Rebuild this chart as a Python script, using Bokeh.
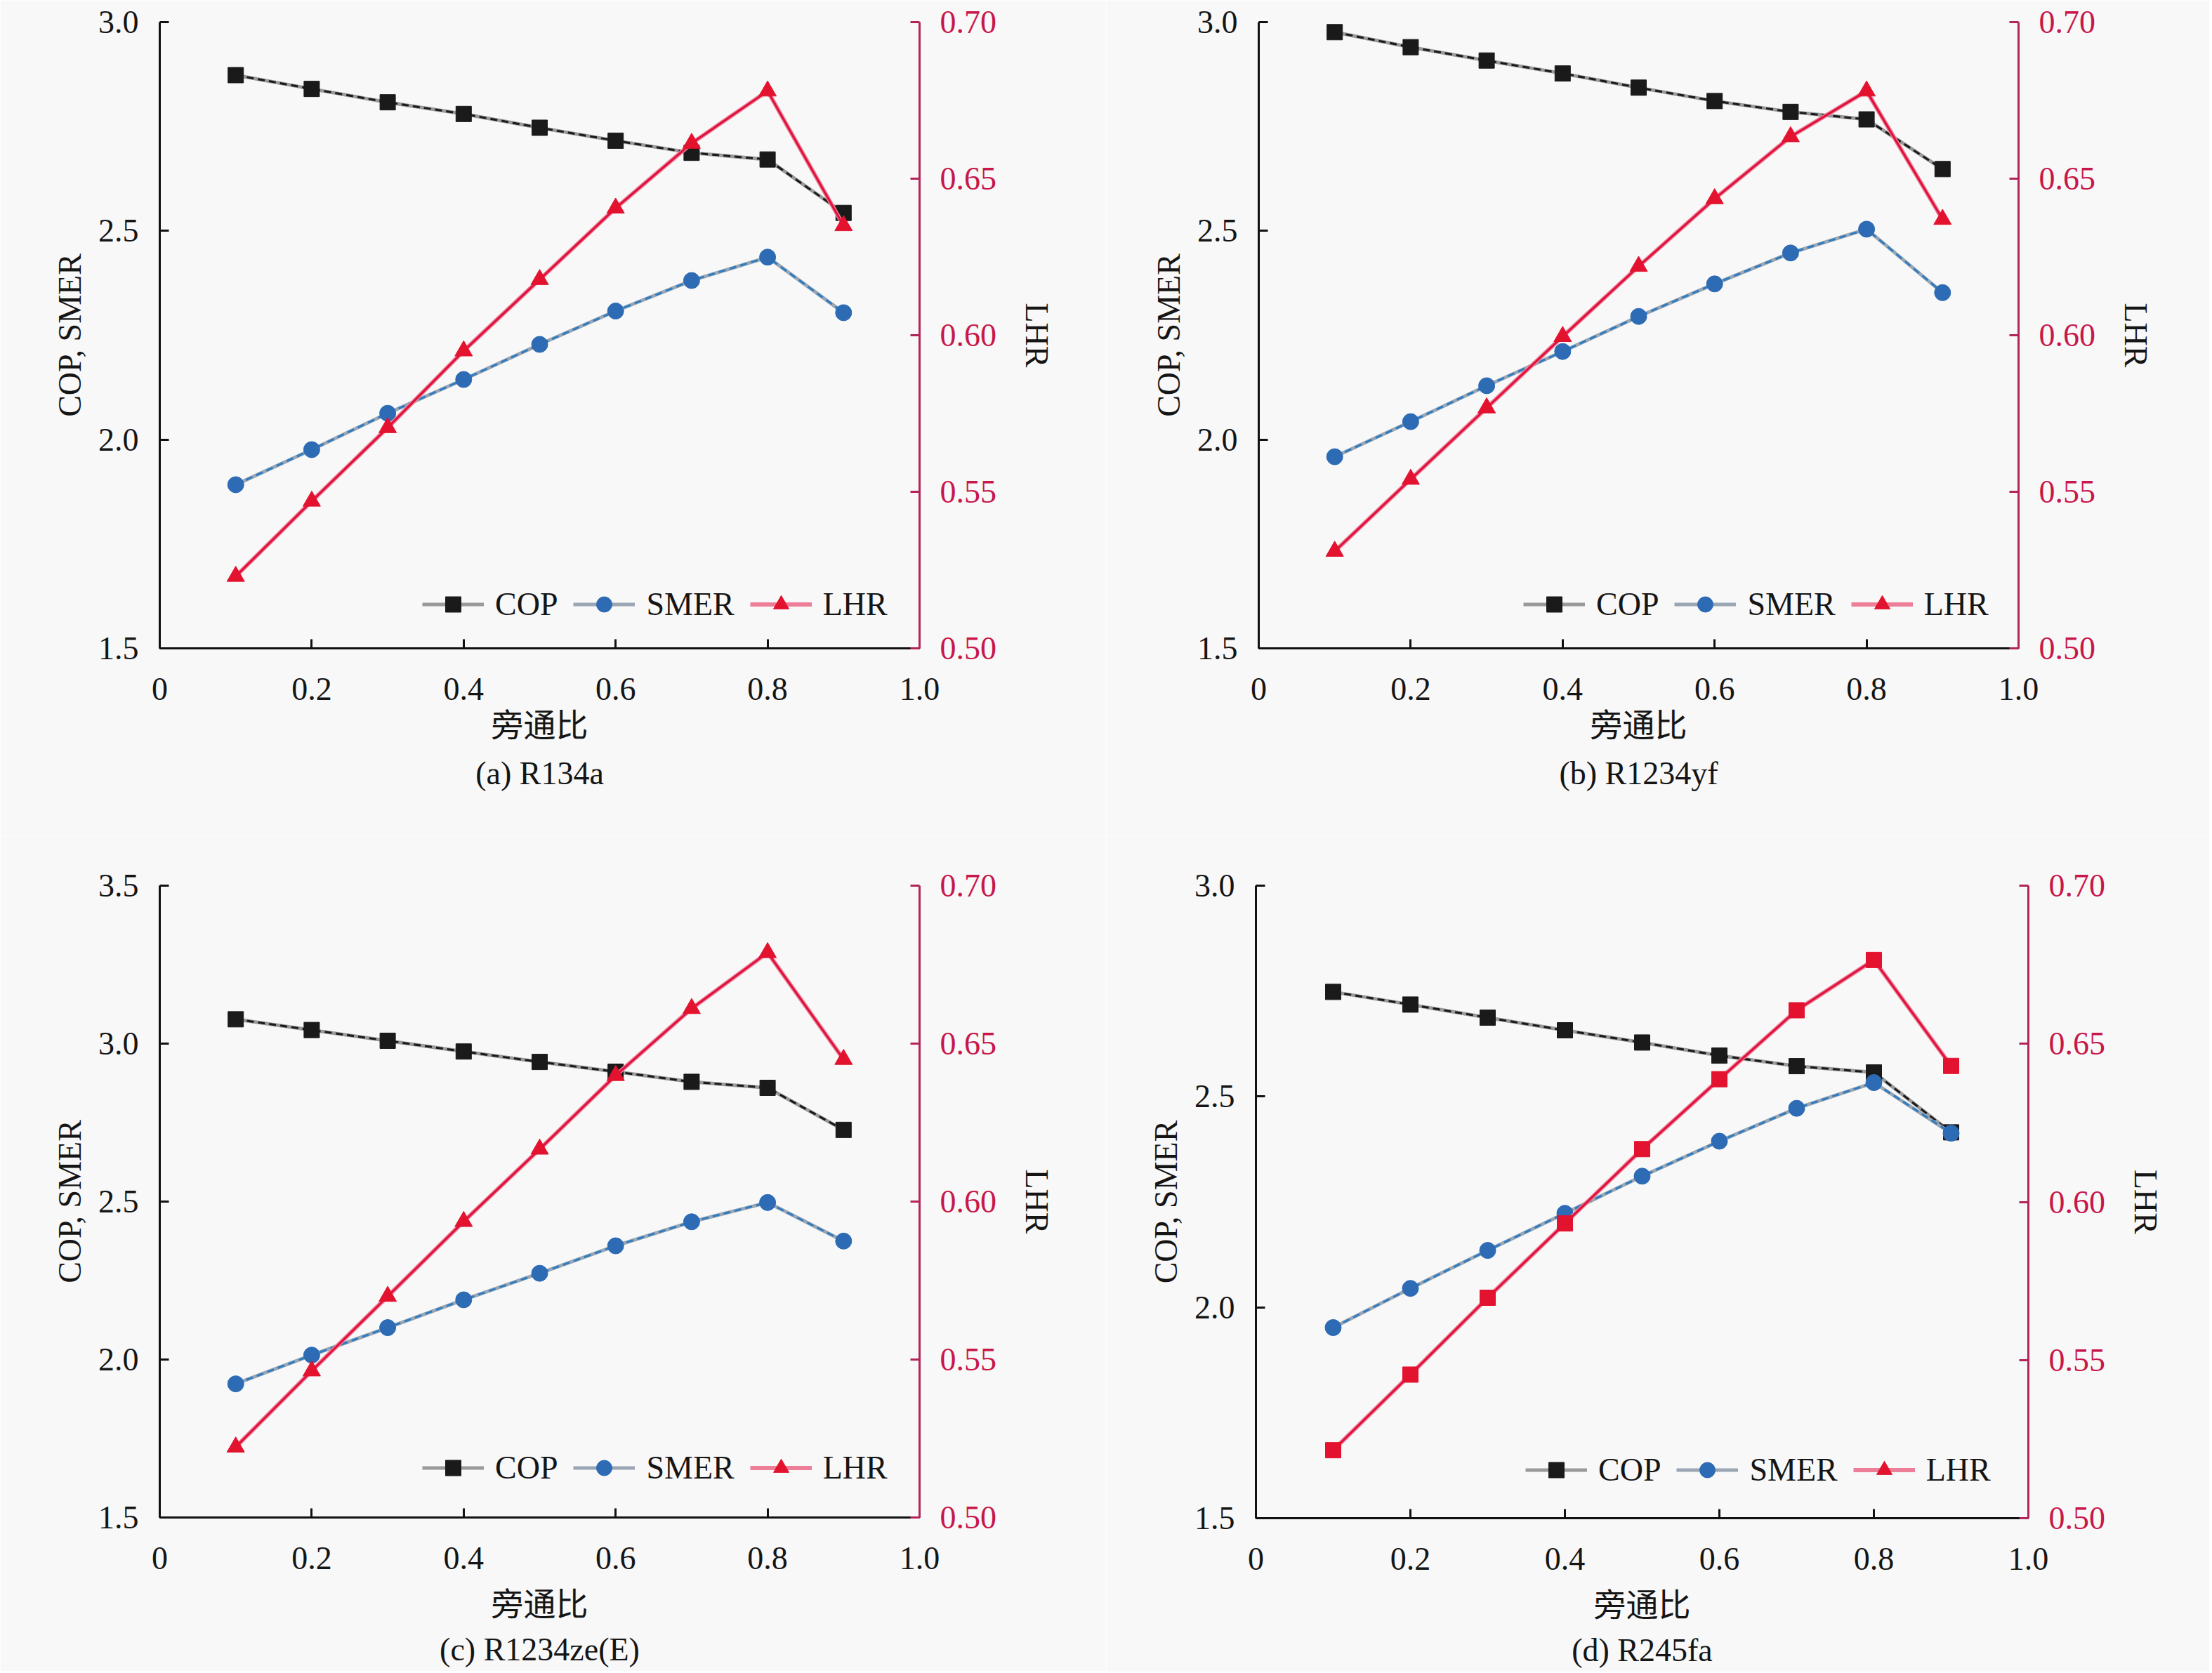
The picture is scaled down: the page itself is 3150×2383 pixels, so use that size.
from bokeh.plotting import figure
from bokeh.models import Range1d, LinearAxis, FixedTicker, Legend, LegendItem, Title
from bokeh.layouts import column, row
from bokeh.core.properties import value
from bokeh.embed import file_html
from bokeh.resources import INLINE

# ---------------- data ----------------
BYPASS = [0.1, 0.2, 0.3, 0.4, 0.5, 0.6, 0.7, 0.8, 0.9]

A_COP = [2.873, 2.840, 2.808, 2.780, 2.747, 2.716, 2.687, 2.671, 2.543]
A_SMER = [1.892, 1.976, 2.063, 2.144, 2.228, 2.308, 2.381, 2.437, 2.304]
A_LHR = [0.523, 0.547, 0.5705, 0.595, 0.6178, 0.6406, 0.6613, 0.678, 0.635]

B_COP = [2.976, 2.940, 2.908, 2.877, 2.843, 2.811, 2.785, 2.767, 2.648]
B_SMER = [1.959, 2.043, 2.129, 2.211, 2.295, 2.373, 2.447, 2.504, 2.352]
B_LHR = [0.531, 0.554, 0.5768, 0.5996, 0.622, 0.6436, 0.6634, 0.678, 0.637]

C_COP = [3.077, 3.043, 3.009, 2.975, 2.942, 2.911, 2.879, 2.860, 2.727]
C_SMER = [1.923, 2.014, 2.101, 2.189, 2.273, 2.360, 2.436, 2.497, 2.375]
C_LHR = [0.5223, 0.5464, 0.570, 0.5937, 0.6166, 0.6399, 0.6611, 0.6788, 0.645]

D_COP = [2.748, 2.718, 2.687, 2.657, 2.628, 2.597, 2.572, 2.557, 2.415]
D_SMER = [1.952, 2.045, 2.135, 2.223, 2.311, 2.394, 2.472, 2.533, 2.413]
D_LHR = [0.5215, 0.5454, 0.5697, 0.5932, 0.6167, 0.6388, 0.6606, 0.6765, 0.643]

X_TICKS = [0.0, 0.2, 0.4, 0.6, 0.8, 1.0]
X_TICK_LABELS = ["0", "0.2", "0.4", "0.6", "0.8", "1.0"]
Y_TICKS_A = [1.5, 2.0, 2.5, 3.0]
Y_TICKS_C = [1.5, 2.0, 2.5, 3.0, 3.5]
Y_TICK_LABELS_A = ["1.5", "2.0", "2.5", "3.0"]
Y_TICK_LABELS_C = ["1.5", "2.0", "2.5", "3.0", "3.5"]
LHR_TICKS = [0.50, 0.55, 0.60, 0.65, 0.70]
LHR_TICK_LABELS = ["0.50", "0.55", "0.60", "0.65", "0.70"]

SERIES_NAMES = ["COP", "SMER", "LHR"]
CAPTIONS = ["(a) R134a", "(b) R1234yf", "(c) R1234ze(E)", "(d) R245fa"]
X_LABEL = "旁通比"
Y_LABEL = "COP, SMER"
Y2_LABEL = "LHR"

# ---------------- style ----------------
FONT = "Liberation Serif"
CJK = "Noto Sans CJK SC"
FS = "46px"
BG = "#f8f8f8"
TXT = "#151515"
RIGHT_AXIS = "#b3245a"
RIGHT_LABEL = "#c8174a"


def make_panel(cop, smer, lhr, ymax, yticks, ylabels, caption, lhr_marker,
               left, right, top, bottom, fw, fh, xlab_standoff, cap_standoff,
               leg_x, leg_y):
    p = figure(frame_width=fw, frame_height=fh,
               x_range=Range1d(0, 1), y_range=Range1d(1.5, ymax),
               output_backend="svg", toolbar_location=None,
               min_border_left=left, min_border_right=right,
               min_border_top=top, min_border_bottom=bottom,
               background_fill_color=BG, border_fill_color=BG,
               outline_line_color=None)
    p.xgrid.visible = False
    p.ygrid.visible = False
    p.extra_y_ranges = {"lhr": Range1d(0.5, 0.7)}

    # x axis
    xa = p.xaxis[0]
    xa.ticker = FixedTicker(ticks=X_TICKS)
    xa.major_label_overrides = {t: l for t, l in zip(X_TICKS, X_TICK_LABELS)}
    xa.axis_label = X_LABEL
    xa.axis_label_text_font = CJK
    xa.axis_label_standoff = xlab_standoff
    xa.major_label_standoff = 42

    # left axis
    ya = p.yaxis[0]
    ya.ticker = FixedTicker(ticks=yticks)
    ya.major_label_overrides = {t: l for t, l in zip(yticks, ylabels)}
    ya.axis_label = Y_LABEL
    ya.axis_label_text_font = FONT
    ya.axis_label_standoff = 12
    ya.major_label_standoff = 30

    # right axis
    ra = LinearAxis(y_range_name="lhr", ticker=FixedTicker(ticks=LHR_TICKS))
    ra.major_label_overrides = {t: l for t, l in zip(LHR_TICKS, LHR_TICK_LABELS)}
    ra.axis_label = Y2_LABEL
    ra.axis_label_text_font = FONT
    ra.axis_label_standoff = 29
    ra.major_label_standoff = 29
    ra.major_label_text_color = RIGHT_LABEL
    ra.axis_line_color = RIGHT_AXIS
    ra.major_tick_line_color = RIGHT_AXIS
    p.add_layout(ra, "right")

    for ax in (xa, ya, ra):
        ax.major_tick_in = 13
        ax.major_tick_out = 0
        ax.minor_tick_line_color = None
        ax.axis_line_width = 3
        ax.major_tick_line_width = 3
        ax.major_label_text_font = FONT
        ax.major_label_text_font_size = FS
        ax.axis_label_text_font_size = FS
        ax.axis_label_text_font_style = "normal"
        ax.axis_label_text_color = TXT
    xa.major_label_text_color = TXT
    ya.major_label_text_color = TXT
    xa.axis_line_color = "#111111"
    ya.axis_line_color = "#111111"
    xa.major_tick_line_color = "#111111"
    ya.major_tick_line_color = "#111111"

    # series
    cop_base = p.line(BYPASS, cop, line_color="#9a9a9a", line_width=5)
    p.line(BYPASS, cop, line_color="#1a1a1a", line_width=3, line_dash="10 6")
    cop_sc = p.scatter(BYPASS, cop, marker="square", size=22,
                       fill_color="#1a1a1a", line_color="#1a1a1a")

    smer_base = p.line(BYPASS, smer, line_color="#9aa6b4", line_width=5)
    p.line(BYPASS, smer, line_color="#2f7cc0", line_width=3, line_dash="10 6")
    smer_sc = p.scatter(BYPASS, smer, marker="circle", size=23,
                        fill_color="#2d6bb5", line_color="#2d6bb5")

    lhr_base = p.line(BYPASS, lhr, y_range_name="lhr", line_color="#ec7f97",
                      line_width=6)
    p.line(BYPASS, lhr, y_range_name="lhr", line_color="#e0103c", line_width=3)
    lhr_sc = p.scatter(BYPASS, lhr, y_range_name="lhr", marker=lhr_marker,
                       size=25 if lhr_marker == "triangle" else 22,
                       fill_color="#e3122f", line_color="#e3122f")
    if lhr_marker == "triangle":
        lhr_leg = lhr_sc
    else:
        lhr_leg = p.scatter([float("nan")], [float("nan")], y_range_name="lhr",
                            marker="triangle", size=25,
                            fill_color="#e3122f", line_color="#e3122f")

    legend = Legend(items=[
        LegendItem(label=value(SERIES_NAMES[0]), renderers=[cop_base, cop_sc]),
        LegendItem(label=value(SERIES_NAMES[1]), renderers=[smer_base, smer_sc]),
        LegendItem(label=value(SERIES_NAMES[2]), renderers=[lhr_base, lhr_leg]),
    ], orientation="horizontal", location=(leg_x, leg_y),
        label_text_font=FONT, label_text_font_size=FS, label_text_color=TXT,
        glyph_width=88, glyph_height=55, label_standoff=16, spacing=22,
        border_line_alpha=0, background_fill_alpha=0,
        margin=0, padding=6)
    p.add_layout(legend)

    t = Title(text=caption, align="center", text_font=FONT, text_font_size=FS,
              text_font_style="normal", text_color=TXT, standoff=cap_standoff)
    p.add_layout(t, "below")
    return p


pa = make_panel(A_COP, A_SMER, A_LHR, 3.0, Y_TICKS_A, Y_TICK_LABELS_A,
                CAPTIONS[0], "triangle", 227, 266, 31, 267, 1082, 892,
                -4, 18, 368, 29)
pb = make_panel(B_COP, B_SMER, B_LHR, 3.0, Y_TICKS_A, Y_TICK_LABELS_A,
                CAPTIONS[1], "triangle", 217, 272, 31, 267, 1082, 892,
                -4, 18, 371, 29)
pc = make_panel(C_COP, C_SMER, C_LHR, 3.5, Y_TICKS_C, Y_TICK_LABELS_C,
                CAPTIONS[2], "triangle", 227, 266, 71, 218, 1082, 900,
                10, 11, 368, 37)
pd = make_panel(D_COP, D_SMER, D_LHR, 3.0, Y_TICKS_A, Y_TICK_LABELS_A,
                CAPTIONS[3], "square", 213, 258, 71, 218, 1100, 901,
                10, 11, 378, 35)

layout = column(row(pa, pb), row(pc, pd))
open("out.html", "w").write(file_html(layout, INLINE))
